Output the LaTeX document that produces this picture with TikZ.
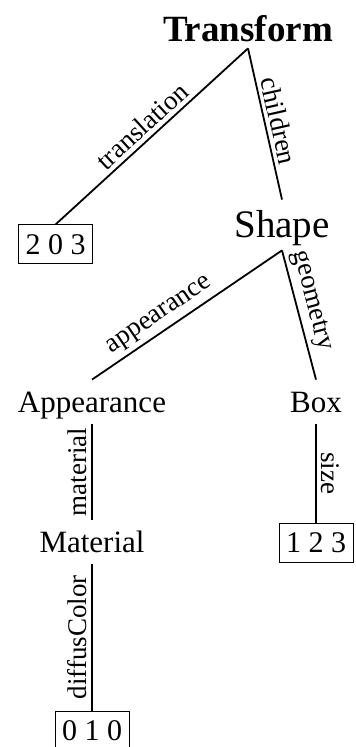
\documentclass[tikz,border=0pt]{standalone}
\usepackage{fontspec}
\setmainfont{Liberation Serif}
\usetikzlibrary{positioning}
\tikzset{
  vrnode/.style={inner sep=0pt, text height=16pt, text depth=6pt,
                 font=\fontsize{15.5}{17}\selectfont},
  vrroot/.style={vrnode, text depth=3pt, font=\fontsize{18.5}{20}\selectfont\bfseries},
  vrbig/.style={vrnode, text height=19pt, font=\fontsize{19.5}{21}\selectfont},
  vrval/.style={draw, line width=0.5pt, inner xsep=3.5pt, inner ysep=0pt,
                minimum height=19.5pt, font=\fontsize{15}{17}\selectfont},
  vredge/.style={line width=0.9pt},
  vrlbl/.style={font=\fontsize{13.5}{15}\selectfont, inner sep=2pt}
}

\begin{document}
\begin{tikzpicture}[x=0.5pt, y=-0.5pt]
\useasboundingbox (0,0) rectangle (355,747);

\node[vrroot, anchor=base] (tf) at (248,42) {Transform};
\node[vrval] (v203) at (55.5,244.5) {2 0 3};
\node[vrbig, anchor=base] (shape) at (282,238) {Shape};
\node[vrnode, anchor=base] (app) at (92,412) {Appearance};
\node[vrnode, anchor=base] (box) at (316,412) {Box};
\node[vrnode, anchor=base] (mat) at (92,552) {Material};
\node[vrval] (v123) at (316,542.5) {1 2 3};
\node[vrval] (v010) at (92,730.5) {0 1 0};

\draw[vredge] (tf.south) -- node[vrlbl, midway, sloped, above] {translation} (v203.north);
\draw[vredge] (tf.south) -- node[vrlbl, midway, sloped, above] {children} (shape.north);
\draw[vredge] (shape.south) -- node[vrlbl, pos=0.6, sloped, above] {appearance} (app.north);
\draw[vredge] (shape.south) -- node[vrlbl, pos=0.42, sloped, above] {geometry} (box.north);
\draw[vredge] (app.south) -- node[vrlbl, midway, rotate=90, anchor=south] {material} (mat.north);
\draw[vredge] (box.south) -- node[vrlbl, midway, rotate=-90, anchor=south] {size} (v123.north);
\draw[vredge] (mat.south) -- node[vrlbl, midway, rotate=90, anchor=south] {diffusColor} (v010.north);

\end{tikzpicture}
\end{document}
